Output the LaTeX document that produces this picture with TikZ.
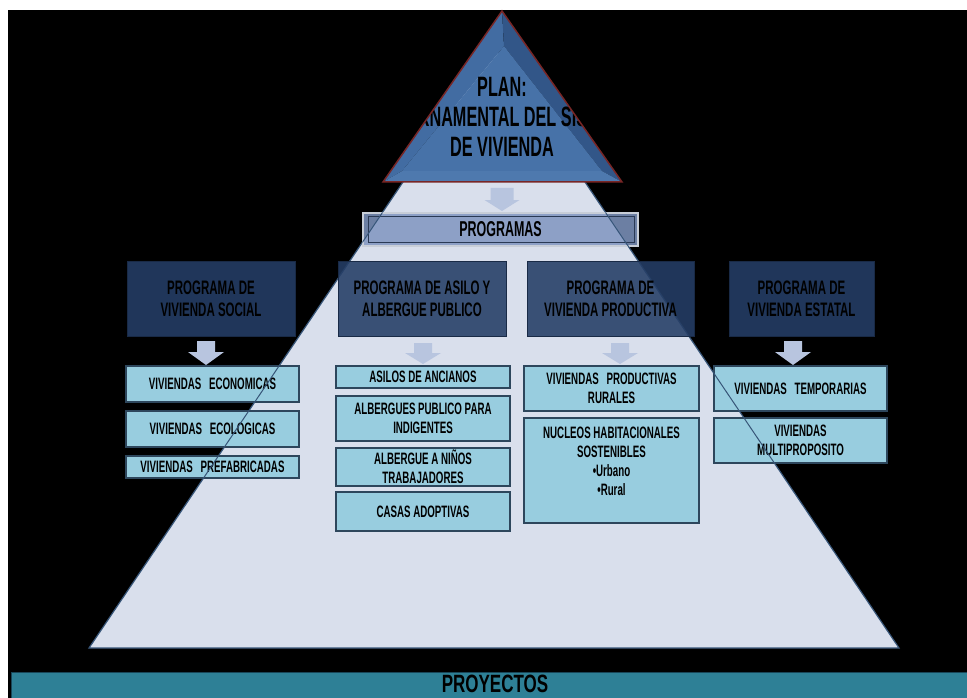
\documentclass[tikz,border=0pt]{standalone}
\usepackage{fontspec}
\setmainfont{Liberation Sans}
\newfontfamily\condA{Liberation Sans}[FakeStretch=0.59]
\newfontfamily\condB{Liberation Sans}[FakeStretch=0.58]
\newfontfamily\condC{Liberation Sans}[FakeStretch=0.68]
\usetikzlibrary{calc}
\definecolor{pyr}{RGB}{217,223,236}
\definecolor{pyredge}{RGB}{55,85,120}
\definecolor{progfill}{RGB}{37,62,102}
\definecolor{progedge}{RGB}{25,42,70}
\definecolor{subfill}{RGB}{152,205,223}
\definecolor{subedge}{RGB}{45,70,92}
\definecolor{arrowc}{RGB}{184,197,223}
\definecolor{proy}{RGB}{46,128,150}
\definecolor{proyedge}{RGB}{25,70,88}
\definecolor{triM}{RGB}{71,114,168}
\definecolor{triL}{RGB}{66,108,162}
\definecolor{triR}{RGB}{50,86,136}
\definecolor{triB}{RGB}{78,121,174}
\definecolor{tribord}{RGB}{120,38,38}
\definecolor{barfill}{RGB}{128,150,192}
\definecolor{barout}{RGB}{200,206,216}
\definecolor{barin}{RGB}{42,58,85}
\newcommand\dnarrow[6]{\fill[arrowc] (#1-#5,#2) -- (#1+#5,#2) -- (#1+#5,#3) -- (#1+#6,#3) -- (#1,#4) -- (#1-#6,#3) -- (#1-#5,#3) -- cycle;}
\newcommand\wsp{\hspace{5pt}}
\tikzset{
  progbox/.style={draw=progedge, line width=1pt, fill=progfill, fill opacity=0.885, text opacity=1,
    minimum height=75pt, inner sep=0pt, align=center, text=black,
    font={\condA\bfseries\fontsize{19.5}{22}\selectfont}},
  subbox/.style={draw=subedge, line width=1.5pt, fill=subfill, inner sep=0pt, align=center, text=black,
    font={\condA\bfseries\fontsize{16.5}{19}\selectfont}},
}
\begin{document}
\begin{tikzpicture}[x=1pt,y=-1pt]
\useasboundingbox (0,0) rectangle (967,698);
\fill[white] (0,0) rectangle (967,698);
\fill[black] (8,10) rectangle (967,698);
% big pyramid
\coordinate (pA) at (494,47);
\coordinate (pB) at (89,648);
\coordinate (pC) at (899,648);
\fill[pyr] (pA) -- (pB) -- (pC) -- cycle;
\draw[pyredge, line width=1.2pt] (pA) -- (pB) -- (pC) -- cycle;
% top triangle
\coordinate (tA) at (502,11);
\coordinate (tB) at (383,182);
\coordinate (tC) at (622,182);
\coordinate (ta) at (504,46);
\coordinate (tb) at (402,171);
\coordinate (tc) at (602,171);
\fill[triL] (tA) -- (tB) -- (tb) -- (ta) -- cycle;
\fill[triR] (tA) -- (tC) -- (tc) -- (ta) -- cycle;
\fill[triB] (tB) -- (tC) -- (tc) -- (tb) -- cycle;
\fill[triM] (ta) -- (tb) -- (tc) -- cycle;
\begin{scope}
\clip (tA) -- (tB) -- (tC) -- cycle;
\node[align=center, inner sep=0pt, text=black, font={\condB\bfseries\fontsize{28}{30}\selectfont}] (plan) at (502,117)
  {PLAN:\\GUBERNAMENTAL DEL SISTEMA\\DE VIVIENDA};
\end{scope}
\draw[tribord, line width=1.5pt] (tA) -- (tB) -- (tC) -- cycle;
% arrow below triangle
\dnarrow{502}{188}{200}{211}{11.5}{17.5}
% PROGRAMAS bar
\node[draw=barout, line width=1.5pt, fill=barfill, fill opacity=0.85, text opacity=1,
  minimum width=275pt, minimum height=33pt, inner sep=0pt, text=black,
  font={\condB\bfseries\fontsize{21.5}{24}\selectfont}] (prog) at (500.5,229.5) {PROGRAMAS};
\draw[barin, line width=1pt] ([shift={(6,4)}]prog.north west) rectangle ([shift={(-4,-4)}]prog.south east);
% program boxes
\node[progbox, minimum width=168pt] (p1) at (211,298.5) {PROGRAMA DE\\VIVIENDA SOCIAL};
\node[progbox, minimum width=168pt] (p2) at (422,298.5) {PROGRAMA DE ASILO Y\\ALBERGUE PUBLICO};
\node[progbox, minimum width=167pt] (p3) at (610.5,298.5) {PROGRAMA DE\\VIVIENDA PRODUCTIVA};
\node[progbox, minimum width=145pt] (p4) at (801.5,298.5) {PROGRAMA DE\\VIVIENDA ESTATAL};
% arrows
\dnarrow{206}{341}{352}{365}{9}{18}
\dnarrow{423}{343}{353}{364}{9}{18}
\dnarrow{620}{343}{353}{364}{9}{18}
\dnarrow{793}{341}{352}{365}{9}{18}
% sub boxes column 1
\node[subbox, minimum width=173pt, minimum height=36pt] (s11) at (212.5,384) {VIVIENDAS\wsp{} ECONOMICAS};
\node[subbox, minimum width=173pt, minimum height=36pt] (s12) at (212.5,429) {VIVIENDAS\wsp{} ECOLOGICAS};
\node[subbox, minimum width=173pt, minimum height=22pt] (s13) at (212.5,467) {VIVIENDAS\wsp{} PREFABRICADAS};
% column 2
\node[subbox, minimum width=174pt, minimum height=22pt] (s21) at (423,377) {ASILOS DE ANCIANOS};
\node[subbox, minimum width=174pt, minimum height=45pt] (s22) at (423,418.5) {ALBERGUES PUBLICO PARA\\INDIGENTES};
\node[subbox, minimum width=174pt, minimum height=38pt] (s23) at (423,467) {ALBERGUE A NIÑOS\\TRABAJADORES};
\node[subbox, minimum width=174pt, minimum height=39pt] (s24) at (423,511.5) {CASAS ADOPTIVAS};
% column 3
\node[subbox, minimum width=175pt, minimum height=45pt] (s31) at (611.5,388.5) {VIVIENDAS\wsp{} PRODUCTIVAS\\RURALES};
\node[subbox, minimum width=175pt, minimum height=105pt] (s32) at (611.5,470.5) {};
\node[align=center, inner sep=0pt, text=black, anchor=north, font={\condA\bfseries\fontsize{16.5}{19}\selectfont}] (s32t) at (611.5,427)
  {NUCLEOS HABITACIONALES\\SOSTENIBLES\\•Urbano\\•Rural};
% column 4
\node[subbox, minimum width=173pt, minimum height=45pt] (s41) at (800.5,388.5) {VIVIENDAS\wsp{} TEMPORARIAS};
\node[subbox, minimum width=173pt, minimum height=45pt] (s42) at (800.5,440.5) {VIVIENDAS\\MULTIPROPOSITO};
% pyramid edges seen through boxes
\begin{scope}
\clip (s11.north west) rectangle (s11.south east)
      (s12.north west) rectangle (s12.south east)
      (s13.north west) rectangle (s13.south east)
      (s41.north west) rectangle (s41.south east)
      (s42.north west) rectangle (s42.south east)
      (prog.north west) rectangle (prog.south east);
\draw[pyredge, line width=1pt] (pA) -- (pB) (pA) -- (pC);
\end{scope}
% PROYECTOS bar
\node[draw=proyedge, fill=proy, line width=1pt, minimum width=957pt, minimum height=30pt, anchor=north west, inner sep=0pt] (proy) at (11,672) {};
\node[anchor=base, inner sep=0pt, text=black, font={\condC\bfseries\fontsize{25}{28}\selectfont}] (proyt) at (495,692) {PROYECTOS};
\end{tikzpicture}
\end{document}
